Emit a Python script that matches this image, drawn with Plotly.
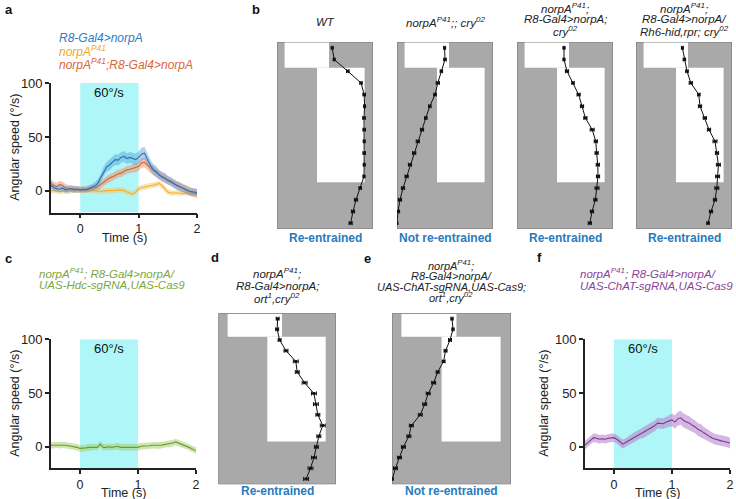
import numpy as np
import plotly.graph_objects as go

W, H = 736, 499
FONT = "Liberation Sans, Arial, sans-serif"

# ---------------- data: angular speed traces (0.05 s steps, -0.5..2 s) ----------------
time_s = np.round(np.linspace(-0.5, 2.0, 51), 2)

r8_mean = [5, 3, 2, 1.5, 2.5, 1, 1.5, 2, 1, 1.5,
           1, 1.5, 1, 2, 3, 4.5, 7, 12, 18, 22,
           24, 27, 29, 28.5, 31, 32, 30, 31, 30, 29,
           31, 34, 35, 29, 24, 20, 18, 15, 13, 12,
           10, 9, 7, 5, 4, 2.5, 1.5, 0, -0.5, -1, -1.5]
r8_sem = [3, 3, 3, 3, 3, 3, 3, 3, 3, 3,
          2.5, 2.5, 2.5, 3, 3, 3.5, 4, 4, 4.5, 4.5,
          5, 5, 5, 5, 5, 5, 5, 5, 5, 5.5,
          5.5, 6, 6, 5.5, 5, 5, 5, 4.5, 4.5, 4.5,
          4, 4, 4, 4, 4, 3.5, 3.5, 3.5, 3.5, 3.5, 3.5]

resc_mean = [7, 5, 4, 6, 5, 3, 2.5, 2, 2, 1.5,
             1, 1, 1.5, 1.5, 2, 3, 4, 6, 8, 10,
             12, 13, 14.5, 16, 16.5, 18, 19.5, 20, 21, 21.5,
             22.5, 26, 26.5, 24, 21, 19, 17, 15, 13, 11,
             9.5, 8, 7, 5.5, 4, 3, 1.5, 0.5, -1, -2, -2.5]
resc_sem = [3.5, 3.5, 3.5, 3.5, 3.5, 3.5, 3, 3, 3, 3,
            3, 3, 3, 3, 3, 3, 3.5, 3.5, 3.5, 3.5,
            3.5, 3.5, 3.5, 3.5, 3.5, 3.5, 3.5, 3.5, 4, 4,
            4, 4.5, 4.5, 4.5, 4.5, 4.5, 4, 4, 4, 4,
            4, 4, 4, 4, 4, 4, 4, 4, 4, 4, 4]

norpa_mean = [0, 0.5, 0, -0.5, 0, -0.5, 0, 0.5, 0.5, 1,
              1, 1, 0.5, 1, 0.5, 0, -0.5, -0.5, 0, 0,
              0.5, 0, 0.5, 1, 1, 0.5, -1, -2, -3, -1,
              2, 3, 3.5, 4, 5, 5.5, 6, 7, 5, 2,
              -1, -2, -2, -1.5, -2, -2.5, -2, -2, -2.5, -3, -3]
norpa_sem = [2.5] * 51

hdc_mean = [1.5, 1.5, 2, 1.5, 2, 1.5, 1, 0.5, 0.5, -0.5,
            -1.5, -1.5, -1, -0.5, -0.5, 0, -0.5, 2.5, -0.5, -0.5,
            0, -0.5, 0, 0.5, -0.5, -0.5, 0, -0.5, 0, -0.5,
            -0.5, 0.5, 0.5, 1, 1, 1.5, 1.5, 1, 1.5, 2,
            2.5, 2.5, 3.5, 4.5, 3.5, 2, 1.5, 0.5, -1, -2.5, -3.5]
hdc_sem = [3] * 51

chat_mean = [1.5, 4, 6.5, 8.5, 8, 7, 7.5, 7, 8, 8.5,
             8.5, 7, 4.5, 2.5, 4, 5.5, 7.5, 9, 10.5, 12,
             13, 15, 16.5, 18, 19.5, 22, 22, 21.5, 23, 24,
             25, 23, 26, 27, 24.5, 23, 22, 20, 18.5, 16,
             15, 13, 11, 9.5, 8, 7, 6.5, 5.5, 5, 4.5, 3.5]
chat_sem = [4, 4, 4, 4, 4, 4, 4, 4, 4, 4,
            4, 4, 4, 4, 4, 4.5, 4.5, 4.5, 4.5, 4.5,
            5, 5, 5, 5, 5, 5, 5, 5, 5, 5.5,
            6, 6, 6.5, 6.5, 6.5, 6.5, 6.5, 6, 6, 6,
            6, 5.5, 5.5, 5, 5, 5, 5, 5, 5, 5, 5]

stim_window = [0, 1]          # s
speed_range = [-20, 100]
time_range = [-0.5, 2]

# ---------------- data: actograms (phase in h per day) ----------------
days = list(range(1, 17))
ld1_days = [0, 2.2]; ld1_light = [1.9, 13.0]
ld2_days = [2.2, 12.0]; ld2_light = [10.0, 21.9]

wt_phase = [13.8, 14.3, 17.7, 21.0, 21.8, 21.9, 21.75, 21.8, 21.8, 21.8, 21.8, 21.75, 20.8, 19.75, 19.0, 18.4]
wt_err = [0.2, 0.2, 0.3, 0.3, 0.3, 0.2, 0.3, 0.3, 0.2, 0.3, 0.2, 0.2, 0.3, 0.4, 0.4, 0.4]
cry_phase = [11.9, 12.0, 11.1, 10.2, 9.5, 8.2, 7.2, 6.25, 5.2, 4.3, 3.25, 2.4, 1.5, 0.75, 0.25, 0.0]
cry_err = [0.2, 0.3, 0.3, 0.4, 0.3, 0.3, 0.3, 0.4, 0.4, 0.4, 0.4, 0.4, 0.4, 0.4, 0.4, 0.1]
r8cry_phase = [11.75, 11.75, 12.5, 14.0, 15.4, 16.25, 17.1, 18.8, 19.7, 19.9, 20.2, 20.25, 20.0, 19.6, 18.75, 18.2]
r8cry_err = [0.2, 0.2, 0.4, 0.3, 0.4, 0.4, 0.4, 0.5, 0.4, 0.4, 0.4, 0.4, 0.5, 0.4, 0.4, 0.4]
rh6_phase = [11.6, 12.1, 12.75, 13.7, 15.7, 16.0, 17.2, 18.25, 19.75, 20.25, 20.6, 20.4, 20.2, 19.75, 18.75, 18.0]
rh6_err = [0.2, 0.3, 0.3, 0.4, 0.3, 0.4, 0.4, 0.4, 0.5, 0.4, 0.5, 0.5, 0.5, 0.4, 0.4, 0.3]
ort_phase = [12.1, 12.0, 12.5, 13.8, 15.8, 16.1, 17.6, 19.5, 19.9, 20.3, 21.3, 20.5, 20.0, 19.5, 18.8, 17.9]
ort_err = [0.3, 0.3, 0.3, 0.4, 0.5, 0.4, 0.5, 0.5, 0.5, 0.4, 0.5, 0.4, 0.4, 0.5, 0.5, 0.5]
ortchat_phase = [12.1, 12.3, 11.7, 10.8, 10.4, 9.2, 8.4, 7.3, 6.6, 5.7, 3.9, 3.4, 2.3, 1.5, 0.7, 0.07]
ortchat_err = [0.2, 0.2, 0.3, 0.3, 0.3, 0.3, 0.4, 0.4, 0.4, 0.4, 0.4, 0.4, 0.4, 0.4, 0.4, 0.1]

# ---------------- helpers ----------------
def fx(px):
    return px / W

def fy(py):
    return 1 - py / H

fig = go.Figure()
annotations = []
shapes = []

def text(px, py, s, size=11, color="#222", xanchor="center", bold=False, italic=False, angle=0):
    if italic:
        s = "<i>" + s + "</i>"
    if bold:
        s = "<b>" + s + "</b>"
    annotations.append(dict(x=fx(px), y=fy(py), xref="paper", yref="paper", text=s,
                            showarrow=False, xanchor=xanchor, yanchor="middle",
                            textangle=angle,
                            font=dict(family=FONT, size=size, color=color)))

AX = "#222"

def line_panel(idx, x0, x1, y0, y1, series, title_x):
    xa = "xaxis" if idx == 1 else f"xaxis{idx}"
    ya = "yaxis" if idx == 1 else f"yaxis{idx}"
    xr = "x" if idx == 1 else f"x{idx}"
    yr = "y" if idx == 1 else f"y{idx}"
    fig.layout[xa] = dict(domain=[fx(x0), fx(x1)], range=time_range, anchor=yr, automargin=False,
                          showline=True, linecolor=AX, linewidth=1.6, ticks="outside",
                          ticklen=4, tickwidth=1.6, tickcolor=AX, tickvals=[0, 1, 2],
                          showgrid=False, zeroline=False,
                          tickfont=dict(family=FONT, size=12.5, color=AX))
    fig.layout[ya] = dict(domain=[fy(y1), fy(y0)], range=speed_range, anchor=xr, automargin=False,
                          showline=True, linecolor=AX, linewidth=1.6, ticks="outside",
                          ticklen=4, tickwidth=1.6, tickcolor=AX, tickvals=[0, 50, 100],
                          showgrid=False, zeroline=False,
                          tickfont=dict(family=FONT, size=13, color=AX))
    shapes.append(dict(type="rect", xref=xr, yref=yr, x0=stim_window[0], x1=stim_window[1],
                       y0=speed_range[0], y1=speed_range[1], fillcolor="#aef6f8",
                       line=dict(width=0), layer="below"))
    annotations.append(dict(x=0.5, y=91, xref=xr, yref=yr, text="60°/s", showarrow=False,
                            font=dict(family=FONT, size=13, color="#111")))
    for mean, sem, lc, bc in series:
        m = np.array(mean, float); s = np.array(sem, float)
        fig.add_trace(go.Scatter(x=list(time_s) + list(time_s[::-1]),
                                 y=list(m + s) + list((m - s)[::-1]),
                                 fill="toself", fillcolor=bc, line=dict(width=0),
                                 mode="lines", hoverinfo="skip", showlegend=False,
                                 xaxis=xr, yaxis=yr))
        fig.add_trace(go.Scatter(x=time_s, y=m, mode="lines",
                                 line=dict(color=lc, width=1.1), showlegend=False,
                                 xaxis=xr, yaxis=yr))
    text((x0 + x1) / 2, y1 + 25, "Time (s)", size=12.5)
    text(title_x, (y0 + y1) / 2, "Angular speed (°/s)", size=12.5, angle=-90)

def actogram(idx, x0, x1, y0, y1, phase, err):
    xa, ya, xr, yr = f"xaxis{idx}", f"yaxis{idx}", f"x{idx}", f"y{idx}"
    fig.layout[xa] = dict(domain=[fx(x0), fx(x1)], range=[0, 24], anchor=yr, visible=False, automargin=False)
    fig.layout[ya] = dict(domain=[fy(y1), fy(y0)], range=[16, 0], anchor=xr, visible=False, automargin=False)
    shapes.append(dict(type="rect", xref=xr, yref=yr, x0=0, x1=24, y0=0, y1=16,
                       fillcolor="#a9a9a9", line=dict(width=0), layer="below"))
    for dd, ll in ((ld1_days, ld1_light), (ld2_days, ld2_light)):
        shapes.append(dict(type="rect", xref=xr, yref=yr, x0=ll[0], x1=ll[1], y0=dd[0], y1=dd[1],
                           fillcolor="white", line=dict(width=0), layer="below"))
    shapes.append(dict(type="rect", xref=xr, yref=yr, x0=0, x1=24, y0=0, y1=16,
                       fillcolor="rgba(0,0,0,0)", line=dict(width=1.2, color="#7a7a7a"), layer="below"))
    fig.add_trace(go.Scatter(x=phase, y=[d - 0.5 for d in days], mode="lines+markers",
                             line=dict(color="#111", width=1),
                             marker=dict(symbol="square", size=3, color="#111"),
                             error_x=dict(type="data", array=err, color="#111", thickness=1, width=2),
                             showlegend=False, xaxis=xr, yaxis=yr))

# ---------------- panels ----------------
line_panel(1, 51, 197, 83, 212.5, [
    (norpa_mean, norpa_sem, "#f2b134", "rgba(248,200,100,0.5)"),
    (resc_mean, resc_sem, "#d9602e", "rgba(240,140,95,0.5)"),
    (r8_mean, r8_sem, "#2f6fb0", "rgba(80,155,215,0.45)"),
], 15)
line_panel(2, 51, 196, 339.3, 468.3, [
    (hdc_mean, hdc_sem, "#6f9b30", "rgba(160,205,100,0.5)"),
], 15)
line_panel(3, 585, 730, 339.3, 468.3, [
    (chat_mean, chat_sem, "#7a3b8c", "rgba(185,135,205,0.6)"),
], 544)

box_top, box_bot = 42, 229
b_boxes = [(277, 373), (397, 493), (517, 613), (636, 732)]
b_data = [(wt_phase, wt_err), (cry_phase, cry_err), (r8cry_phase, r8cry_err), (rh6_phase, rh6_err)]
for i, ((bx0, bx1), (ph, er)) in enumerate(zip(b_boxes, b_data)):
    actogram(4 + i, bx0, bx1, box_top, box_bot, ph, er)
actogram(8, 218.3, 336, 313.3, 484.3, ort_phase, ort_err)
actogram(9, 392, 511, 313.3, 484.3, ortchat_phase, ortchat_err)

# ---------------- text ----------------
for lt, px, py in (("a", 3, 9), ("b", 250, 9), ("c", 3, 258), ("d", 209, 257), ("e", 362, 258), ("f", 535, 257)):
    text(px, py, lt, size=13, bold=True, xanchor="left", color="#111")

text(57, 38, "R8-Gal4>norpA", size=12, color="#2e7bbf", italic=True, xanchor="left")
text(57, 51, "norpA<sup>P41</sup>", size=12, color="#f0a82a", italic=True, xanchor="left")
text(57, 64, "norpA<sup>P41</sup>;R8-Gal4>norpA", size=12, color="#d8653a", italic=True, xanchor="left")

text(37, 273, "norpA<sup>P41</sup>; R8-Gal4>norpA/", size=11.5, color="#7aa83a", italic=True, xanchor="left")
text(37, 285, "UAS-Hdc-sgRNA,UAS-Cas9", size=11.5, color="#7aa83a", italic=True, xanchor="left")
text(578, 273, "norpA<sup>P41</sup>; R8-Gal4>norpA/", size=11.5, color="#8a3f9a", italic=True, xanchor="left")
text(578, 286, "UAS-ChAT-sgRNA,UAS-Cas9", size=11.5, color="#8a3f9a", italic=True, xanchor="left")

text(325, 22, "WT", size=11.5, italic=True)
text(445, 22, "norpA<sup>P41</sup>;; cry<sup>02</sup>", size=11.5, italic=True)
for s, py in (("norpA<sup>P41</sup>;", 8), ("R8-Gal4>norpA;", 19.5), ("cry<sup>02</sup>", 31)):
    text(565, py, s, size=11.5, italic=True)
for s, py in (("norpA<sup>P41</sup>;", 8), ("R8-Gal4>norpA/", 19.5), ("Rh6-hid,rpr; cry<sup>02</sup>", 31)):
    text(684, py, s, size=11.5, italic=True)
for s, py in (("norpA<sup>P41</sup>;", 273), ("R8-Gal4>norpA;", 286), ("ort<sup>1</sup>,cry<sup>02</sup>", 298)):
    text(277, py, s, size=11.5, italic=True)
for s, py in (("norpA<sup>P41</sup>;", 265), ("R8-Gal4>norpA/", 276), ("UAS-ChAT-sgRNA,UAS-Cas9;", 287),
              ("ort<sup>1</sup>,cry<sup>02</sup>", 297)):
    text(451, py, s, size=11, italic=True)

BLUE = "#2a7abd"
for cx, lab in ((325, "Re-entrained"), (445, "Not re-entrained"), (565, "Re-entrained"), (684, "Re-entrained")):
    text(cx, 237.5, lab, size=12, bold=True, color=BLUE)
text(277, 491, "Re-entrained", size=12, bold=True, color=BLUE)
text(451, 491, "Not re-entrained", size=12, bold=True, color=BLUE)

fig.update_layout(width=W, height=H, margin=dict(l=0, r=0, t=0, b=0, autoexpand=False),
                  paper_bgcolor="white", plot_bgcolor="rgba(0,0,0,0)",
                  shapes=shapes, annotations=annotations, showlegend=False,
                  font=dict(family=FONT))
fig.write_html(
    "out.html",
    config={"displayModeBar": False},
    post_script=(
        "var de=document.documentElement,bd=document.body;"
        "[de,bd].forEach(function(e){e.style.margin='0px';e.style.padding='0px';"
        "e.style.overflow='hidden';e.style.height='499px';});"
        "var gd=document.getElementById('{plot_id}');"
        "gd.style.position='fixed';gd.style.left='0px';gd.style.top='0px';"
    ),
)
